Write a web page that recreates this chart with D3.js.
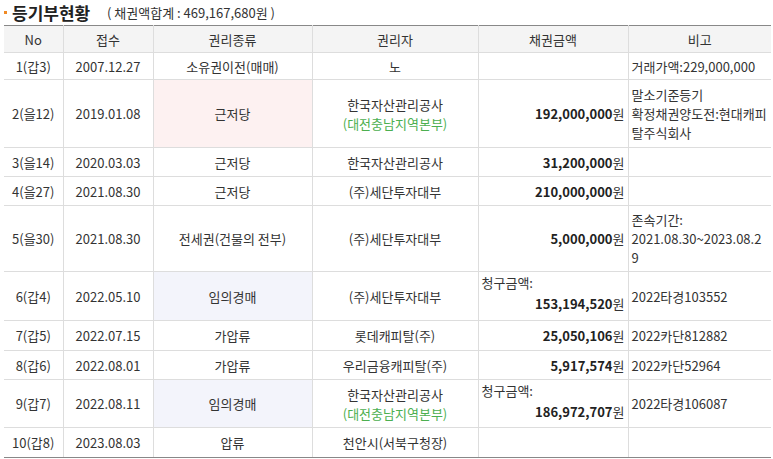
<!DOCTYPE html>
<html><head><meta charset="utf-8">
<script src="https://cdn.jsdelivr.net/npm/d3@7"></script>
<style>
body{margin:0;background:#fff;font-family:"Noto Sans CJK KR","Noto Sans",sans-serif;color:#333;}
table{border-collapse:collapse;table-layout:fixed;position:absolute;left:4px;top:25px;width:767px;font-size:13px;letter-spacing:0}
th{background:#f4f4f4;font-weight:normal;height:24px;border:1px solid #ddd;border-top:1px solid #888}
td{border:1px solid #ddd;text-align:center;padding:0 3px;line-height:19px;word-break:break-all}
tr:last-child td{border-bottom:1px solid #888}
th:first-child,td:first-child{border-left:none}
th:last-child,td:last-child{border-right:none}
.amt{text-align:right}
.amt b{font-weight:600;color:#222}
.note{text-align:left}
.sub{color:#4caf50}
</style></head><body>
<script>
const columns = ['No', '접수', '권리종류', '권리자', '채권금액', '비고'];
const colWidths = [59, 90, 159, 166, 150, 143];
const nos = ['1(갑3)', '2(을12)', '3(을14)', '4(을27)', '5(을30)', '6(갑4)', '7(갑5)', '8(갑6)', '9(갑7)', '10(갑8)'];
const dates = ['2007.12.27', '2019.01.08', '2020.03.03', '2021.08.30', '2021.08.30', '2022.05.10', '2022.07.15', '2022.08.01', '2022.08.11', '2023.08.03'];
const kinds = ['소유권이전(매매)', '근저당', '근저당', '근저당', '전세권(건물의 전부)', '임의경매', '가압류', '가압류', '임의경매', '압류'];
const holders = ['노', '한국자산관리공사', '한국자산관리공사', '(주)세단투자대부', '(주)세단투자대부', '(주)세단투자대부', '롯데캐피탈(주)', '우리금융캐피탈(주)', '한국자산관리공사', '천안시(서북구청장)'];
const holderSubs = ['', '(대전충남지역본부)', '', '', '', '', '', '', '(대전충남지역본부)', ''];
const amounts = ['', '192,000,000', '31,200,000', '210,000,000', '5,000,000', '153,194,520', '25,050,106', '5,917,574', '186,972,707', ''];
const claimFlags = [0, 0, 0, 0, 0, 1, 0, 0, 1, 0];
const notes = ['거래가액:229,000,000', '말소기준등기<br>확정채권양도전:현대캐피탈주식회사', '', '', '존속기간:<br>2021.08.30~2023.08.29', '2022타경103552', '2022카단812882', '2022카단52964', '2022타경106087', ''];
const rowHeights = [27, 68, 29, 29, 66, 49, 30, 29, 48, 30];
const highlightRows = [1, 5, 8];
const highlightColors = ['#fdf1f1', '#f3f4fb', '#f3f4fb'];

const svg = d3.select('body').append('svg').attr('width', 773).attr('height', 25)
  .style('position', 'absolute').style('left', 0).style('top', 0);
svg.append('rect').attr('x', 4).attr('y', 11).attr('width', 3).attr('height', 3).attr('fill', '#f08a24');
svg.append('text').attr('x', 12).attr('y', 20).attr('font-size', 17).attr('font-weight', 'bold')
  .attr('fill', '#222').text('등기부현황');
svg.append('text').attr('x', 107).attr('y', 18).attr('font-size', 13).attr('fill', '#333')
  .text('( 채권액합계 : 469,167,680원 )');

const table = d3.select('body').append('table');
table.append('colgroup').selectAll('col').data(colWidths).join('col').style('width', d => d + 'px');
table.append('tr').selectAll('th').data(columns).join('th').text(d => d);

const rows = table.selectAll('tr.r').data(d3.range(nos.length)).join('tr').attr('class', 'r')
  .style('height', i => rowHeights[i] + 'px');
rows.append('td').text(i => nos[i]);
rows.append('td').text(i => dates[i]);
rows.append('td').text(i => kinds[i])
  .style('background', i => highlightRows.includes(i) ? highlightColors[highlightRows.indexOf(i)] : null);
rows.append('td').html(i => holders[i] + (holderSubs[i] ? `<br><span class="sub">${holderSubs[i]}</span>` : ''));
rows.append('td').attr('class', 'amt').html(i => {
  if (!amounts[i]) return '';
  const v = `<b>${amounts[i]}</b>원`;
  return claimFlags[i] ? `<div style="text-align:left;margin-top:-6px">청구금액:</div><div style="margin-top:2px">${v}</div>` : v;
});
rows.append('td').attr('class', 'note').html(i => notes[i]);
</script>
</body></html>
